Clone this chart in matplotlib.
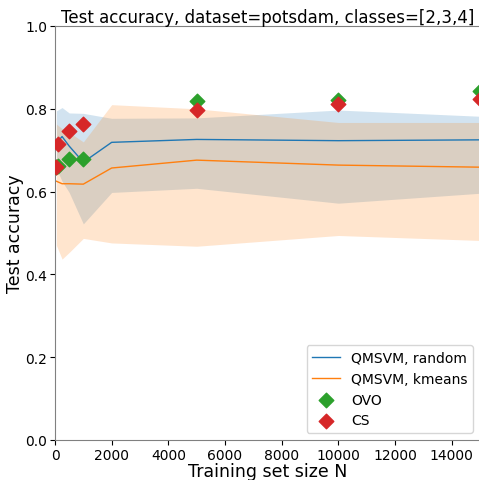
import numpy as np
import matplotlib
matplotlib.use("Agg")
import matplotlib.pyplot as plt

# ── Data ────────────────────────────────────────────────────────────────────
n_line = [50, 250, 500, 1000, 2000, 5000, 10000, 15000]

random_mean = [0.717, 0.733, 0.710, 0.671, 0.719, 0.726, 0.723, 0.725]
random_low = [0.655, 0.625, 0.598, 0.522, 0.598, 0.608, 0.572, 0.596]
random_high = [0.795, 0.803, 0.790, 0.789, 0.777, 0.778, 0.797, 0.782]

kmeans_mean = [0.625, 0.619, 0.619, 0.618, 0.657, 0.676, 0.664, 0.659]
kmeans_low = [0.470, 0.437, 0.453, 0.487, 0.476, 0.468, 0.494, 0.482]
kmeans_high = [0.763, 0.752, 0.743, 0.720, 0.810, 0.800, 0.767, 0.767]

n_pts = [50, 100, 500, 1000, 5000, 10000, 15000]
ovo_acc = [0.660, 0.663, 0.679, 0.679, 0.818, 0.822, 0.843]
cs_acc = [0.659, 0.715, 0.746, 0.763, 0.798, 0.812, 0.823]

# ── Plot ────────────────────────────────────────────────────────────────────
fig = plt.figure(figsize=(4.79, 4.81), dpi=100)
ax = fig.add_axes([55 / 479, 40 / 481, 425 / 479, 414 / 481])

ax.plot(n_line, random_mean, color='tab:blue', linewidth=1, label="QMSVM, random")
ax.fill_between(n_line, random_low, random_high, color='tab:blue', alpha=0.2, linewidth=0)
ax.plot(n_line, kmeans_mean, color='tab:orange', linewidth=1, label="QMSVM, kmeans")
ax.fill_between(n_line, kmeans_low, kmeans_high, color='tab:orange', alpha=0.2, linewidth=0)

ax.scatter(n_pts, ovo_acc, marker='D', s=55, color='tab:green', label="OVO", zorder=3)
ax.scatter(n_pts, cs_acc, marker='D', s=55, color='tab:red', label="CS", zorder=3)

# ── Styling ─────────────────────────────────────────────────────────────────
ax.set_xlim(0, 15000)
ax.set_ylim(0, 1.0)
ax.set_xticks(np.arange(0, 15000, 2000))
ax.set_yticks(np.arange(0, 1.01, 0.2))
ax.tick_params(labelsize=10, pad=2)
for s in ax.spines.values():
    s.set_color('0.5')

ax.set_title("Test accuracy, dataset=potsdam, classes=[2,3,4]", fontsize=12, pad=3)
ax.set_xlabel("Training set size N", fontsize=12.5, labelpad=0)
ax.set_ylabel("Test accuracy", fontsize=12.5, labelpad=1)
ax.legend(loc='lower right', fontsize=10)

fig.savefig("out.png", dpi=100)
